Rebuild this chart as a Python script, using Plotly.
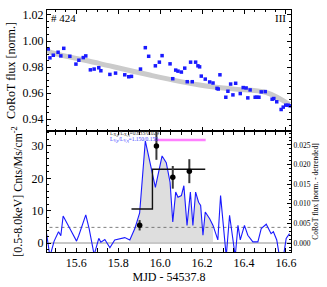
import plotly.graph_objects as go

# ---- top panel: CoRoT light curve ----
t_mjd = [15.466, 15.474, 15.490, 15.513, 15.526, 15.540, 15.569, 15.598, 15.612, 15.633,
         15.645, 15.667, 15.685, 15.707, 15.717, 15.760, 15.787, 15.831, 15.850, 15.863,
         15.906, 15.929, 15.945, 15.977, 15.996, 16.009, 16.047, 16.060, 16.074, 16.085,
         16.101, 16.117, 16.129, 16.145, 16.153, 16.169, 16.180, 16.188, 16.196, 16.215,
         16.236, 16.252, 16.271, 16.277, 16.285, 16.313, 16.323, 16.336, 16.347, 16.360,
         16.382, 16.396, 16.410, 16.418, 16.429, 16.453, 16.461, 16.471, 16.482, 16.501,
         16.534, 16.542, 16.556, 16.577, 16.587, 16.599, 16.610, 16.620]
flux = [0.9939, 0.9871, 0.9891, 0.9914, 0.9886, 0.9944, 0.9883, 0.9823, 0.9853, 0.9873,
        0.9886, 0.9779, 0.9785, 0.9795, 0.9772, 0.9744, 0.9754, 0.9741, 0.9726, 0.9729,
        0.9785, 0.9949, 0.9883, 0.9810, 0.9838, 0.9888, 0.9825, 0.9711, 0.9777, 0.9769,
        0.9762, 0.9792, 0.9688, 0.9838, 0.9688, 0.9838, 0.9810, 0.9802, 0.9731, 0.9708,
        0.9686, 0.9678, 0.9637, 0.9632, 0.9741, 0.9569, 0.9615, 0.9670, 0.9587, 0.9676,
        0.9597, 0.9643, 0.9640, 0.9564, 0.9625, 0.9569, 0.9569, 0.9569, 0.9610, 0.9612,
        0.9554, 0.9559, 0.9534, 0.9475, 0.9493, 0.9508, 0.9508, 0.9503]
trend_t = [15.460, 15.474, 15.712, 15.950, 16.188, 16.345, 16.507, 16.617]
trend_f = [0.9930, 0.9916, 0.9827, 0.9739, 0.9663, 0.9633, 0.9605, 0.9513]

# ---- bottom panel: detrended CoRoT flux ----
d_t = [15.458, 15.474, 15.494, 15.515, 15.526, 15.537, 15.569, 15.601, 15.612, 15.645,
       15.661, 15.685, 15.707, 15.717, 15.736, 15.760, 15.783, 15.807, 15.831, 15.855,
       15.879, 15.902, 15.929, 15.977, 16.009, 16.029, 16.047, 16.060, 16.074, 16.085,
       16.101, 16.113, 16.128, 16.144, 16.156, 16.169, 16.183, 16.193, 16.204, 16.215,
       16.236, 16.252, 16.275, 16.288, 16.302, 16.315, 16.331, 16.342, 16.358, 16.371,
       16.382, 16.402, 16.418, 16.442, 16.466, 16.482, 16.506, 16.529, 16.540, 16.556,
       16.569, 16.588, 16.601, 16.617]
d_flux = [0.0024, -0.0034, 0.0005, 0.0029, 0.0019, 0.0069, 0.0037, 0.0005, 0.0020, 0.0072,
          0.0037, -0.0030, 0.0012, 0.0002, 0.0009, -0.0012, 0.0008, 0.0011, 0.0014, 0.0008,
          0.0037, 0.0077, 0.0260, 0.0142, 0.0222, 0.0205, 0.0155, 0.0054, 0.0130, 0.0117,
          0.0121, 0.0146, 0.0045, 0.0130, 0.0045, 0.0130, 0.0104, 0.0096, 0.0020, 0.0079,
          0.0062, 0.0045, 0.0008, 0.0121, 0.0037, -0.0034, 0.0071, 0.0029, -0.0034, 0.0045,
          0.0008, 0.0045, 0.0020, 0.0003, 0.0003, 0.0037, 0.0048, 0.0024, 0.0029, 0.0008,
          -0.0034, -0.0034, 0.0012, 0.0024]
flare_start = 15.855
flare_end = 16.252
detrend_level = 0.0040

# ---- X-ray data ----
xr_t = [15.902, 15.982, 16.060, 16.139]
xr_rate = [5.5, 30.0, 20.3, 22.2]
xr_err = [1.6, 4.3, 3.5, 3.7]
bin_edges = [15.863, 15.963, 16.215]
bin_rates = [10.5, 22.8]
mag_t = [15.974, 16.217]
mag_rate = 31.8

blue = "#1a1aff"
FONT = "Liberation Serif"
SCALE = 0.000825  # right-axis units per left-axis unit
YL = [-2.75, 34.6]

fig = go.Figure()

# top panel
fig.add_trace(go.Scatter(x=trend_t, y=trend_f, mode="lines", line=dict(color="#cbcbcb", width=5, shape="spline"),
                         xaxis="x", yaxis="y", hoverinfo="skip"))
fig.add_trace(go.Scatter(x=t_mjd, y=flux, mode="markers", marker=dict(symbol="square", size=3.5, color=blue),
                         xaxis="x", yaxis="y"))

# bottom panel (base axis y2 = right, CoRoT detrended)
fill_t = [flare_start] + [t for t in d_t if flare_start < t <= flare_end]
fill_f = [0.0008] + [f for t, f in zip(d_t, d_flux) if flare_start < t <= flare_end]
fill_t = [flare_start] + fill_t + [flare_end]
fill_f = [0.0] + fill_f + [0.0]
fig.add_trace(go.Scatter(x=fill_t, y=fill_f, mode="lines", line=dict(width=0), fill="toself",
                         fillcolor="#dedede", xaxis="x2", yaxis="y2", hoverinfo="skip"))
fig.add_trace(go.Scatter(x=[15.3, 16.8], y=[0, 0], mode="lines", line=dict(color="#c8c8c8", width=2),
                         xaxis="x2", yaxis="y2", hoverinfo="skip"))
fig.add_trace(go.Scatter(x=[15.3, 16.8], y=[detrend_level, detrend_level], mode="lines",
                         line=dict(color="#606060", width=0.8, dash="dot"),
                         xaxis="x2", yaxis="y2", hoverinfo="skip"))
fig.add_trace(go.Scatter(x=d_t, y=d_flux, mode="lines", line=dict(color=blue, width=1.1),
                         xaxis="x2", yaxis="y2"))

# X-ray (overlaying axis y3 = left)
fig.add_trace(go.Scatter(x=[bin_edges[0], bin_edges[1], bin_edges[1], bin_edges[2]],
                         y=[bin_rates[0], bin_rates[0], bin_rates[1], bin_rates[1]],
                         mode="lines", line=dict(color="#111111", width=1.4), xaxis="x2", yaxis="y3"))
fig.add_trace(go.Scatter(x=mag_t, y=[mag_rate, mag_rate], mode="lines", line=dict(color="#ff80ff", width=2.5),
                         xaxis="x2", yaxis="y3"))
fig.add_trace(go.Scatter(x=xr_t, y=xr_rate, mode="markers",
                         marker=dict(color="black", size=5.5),
                         error_y=dict(type="data", array=xr_err, color="#3a3a3a", thickness=2, width=0),
                         xaxis="x2", yaxis="y3"))

axis_common = dict(showline=True, linecolor="black", linewidth=1, ticks="inside", tickcolor="black",
                   ticklen=4, mirror="allticks", showgrid=False, zeroline=False,
                   tickfont=dict(family=FONT, size=12, color="black"))

xr = [15.46, 16.624]
fig.update_layout(
    width=327, height=287,
    margin=dict(l=47, r=35.5, t=8, b=35),
    paper_bgcolor="white", plot_bgcolor="white",
    showlegend=False,
    font=dict(family=FONT, color="black"),
    xaxis=dict(axis_common, domain=[0, 1], range=xr, anchor="y", dtick=0.2, tick0=15.6, showticklabels=False,
               minor=dict(dtick=0.05, ticks="inside", ticklen=2, tickcolor="black")),
    yaxis=dict(axis_common, domain=[0.5, 1], range=[0.931, 1.0238], anchor="x", dtick=0.02, tick0=0.94,
               tickformat=".2f",
               minor=dict(dtick=0.005, ticks="inside", ticklen=2, tickcolor="black"),
               title=dict(text="CoRoT flux [norm.]", font=dict(family=FONT, size=12), standoff=4)),
    xaxis2=dict(axis_common, domain=[0, 1], range=xr, anchor="y3", dtick=0.2, tick0=15.6, tickformat=".1f",
                minor=dict(dtick=0.05, ticks="inside", ticklen=2, tickcolor="black"),
                title=dict(text="MJD - 54537.8", font=dict(family=FONT, size=12), standoff=0)),
    yaxis2=dict(axis_common, mirror=False, domain=[0, 0.5], side="right", anchor="x2",
                range=[YL[0] * SCALE, YL[1] * SCALE], dtick=0.005, tick0=0, tickformat=".3f",
                tickfont=dict(family=FONT, size=7.5, color="black"),
                minor=dict(dtick=0.001, ticks="inside", ticklen=2, tickcolor="black"),
                title=dict(text="CoRoT flux [norm. - detrended]", font=dict(family=FONT, size=7.5), standoff=1)),
    yaxis3=dict(axis_common, mirror=False, overlaying="y2", side="left", anchor="x2", range=YL, dtick=10, tick0=0,
                minor=dict(dtick=2, ticks="inside", ticklen=2, tickcolor="black"),
                title=dict(text="[0.5-8.0keV] Cnts/Ms/cm<sup>-2</sup>", font=dict(family=FONT, size=12), standoff=6)),
)

fig.add_annotation(text="# 424", x=0.0, y=1.0, xref="paper", yref="paper", xanchor="left", yanchor="top",
                   showarrow=False, font=dict(family=FONT, size=11, color="black"), xshift=2)
fig.add_annotation(text="III", x=1.0, y=1.0, xref="paper", yref="paper", xanchor="right", yanchor="top",
                   showarrow=False, font=dict(family=FONT, size=11, color="black"), xshift=-3)
fig.add_annotation(text="L<sub>X,p</sub>/L<sub>X,q</sub>=0.633/0.029", x=15.75, y=33.8, xref="x2", yref="y3",
                   xanchor="left", yanchor="middle", showarrow=False,
                   font=dict(family=FONT, size=5.5, color="#333333"))
fig.add_annotation(text="L<sub>V,p</sub>/L<sub>V,q</sub>=1.150/0.150", x=15.75, y=31.9, xref="x2", yref="y3",
                   xanchor="left", yanchor="middle", showarrow=False,
                   font=dict(family=FONT, size=5.5, color="#4040ff"))

fig.write_html("out.html", config={"displayModeBar": False},
               post_script="document.body.style.margin='0';document.body.style.overflow='hidden';")
